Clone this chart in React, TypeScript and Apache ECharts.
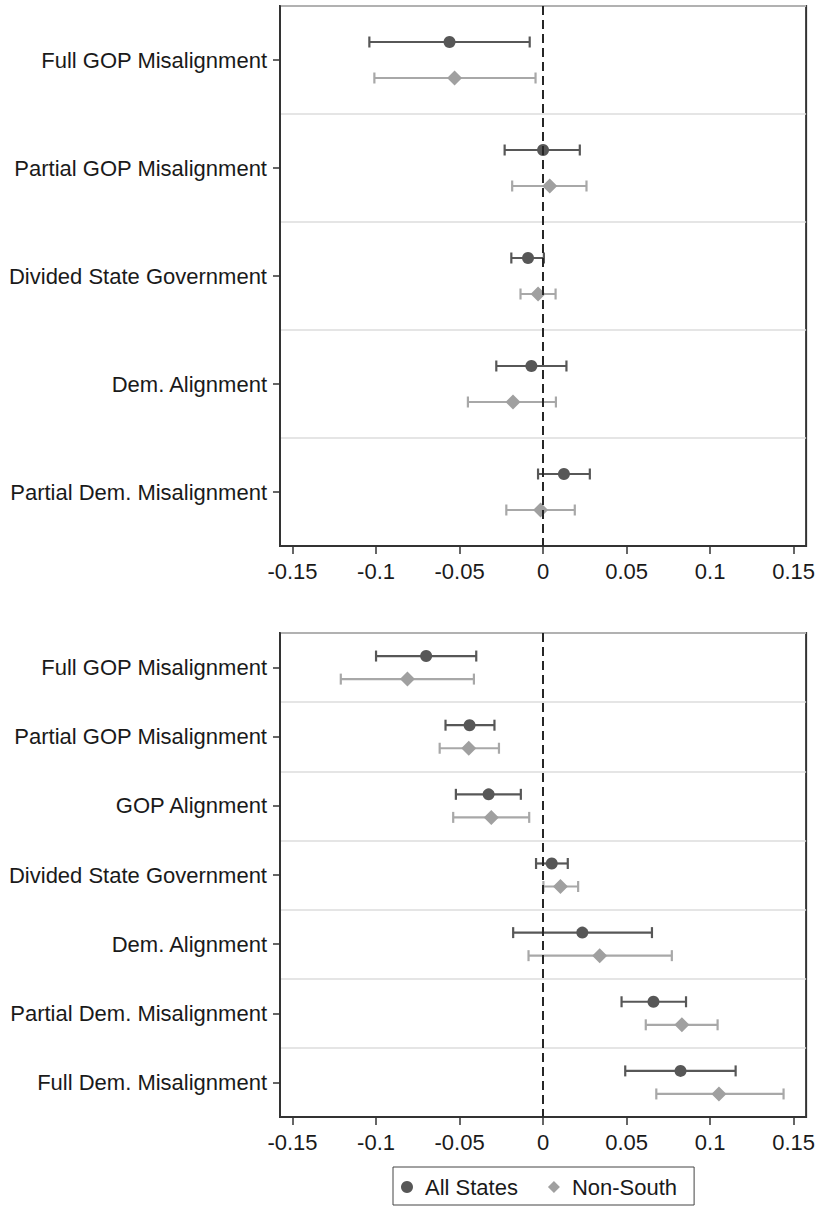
import React, { useEffect, useRef } from "react";
import * as echarts from "echarts";

const topCategories = [
  "Full GOP Misalignment",
  "Partial GOP Misalignment",
  "Divided State Government",
  "Dem. Alignment",
  "Partial Dem. Misalignment",
];
const topAllEst = [-0.056, 0.0, -0.009, -0.007, 0.0125];
const topAllLo = [-0.104, -0.023, -0.019, -0.028, -0.003];
const topAllHi = [-0.008, 0.022, 0.0005, 0.014, 0.028];
const topNSEst = [-0.053, 0.004, -0.003, -0.018, -0.0015];
const topNSLo = [-0.101, -0.0185, -0.0135, -0.045, -0.022];
const topNSHi = [-0.0045, 0.026, 0.0075, 0.0077, 0.019];

const bottomCategories = [
  "Full GOP Misalignment",
  "Partial GOP Misalignment",
  "GOP Alignment",
  "Divided State Government",
  "Dem. Alignment",
  "Partial Dem. Misalignment",
  "Full Dem. Misalignment",
];
const botAllEst = [-0.07, -0.044, -0.0326, 0.0052, 0.0235, 0.0661, 0.0823];
const botAllLo = [-0.1, -0.0584, -0.0522, -0.0042, -0.0179, 0.047, 0.0492];
const botAllHi = [-0.04, -0.0291, -0.0133, 0.0148, 0.0652, 0.0856, 0.1153];
const botNSEst = [-0.0812, -0.0445, -0.031, 0.0104, 0.0339, 0.0831, 0.1053];
const botNSLo = [-0.1211, -0.0619, -0.0538, 0.0002, -0.0087, 0.0615, 0.0678];
const botNSHi = [-0.0414, -0.0264, -0.0083, 0.021, 0.0771, 0.1045, 0.144];

const xTicks = [-0.15, -0.1, -0.05, 0, 0.05, 0.1, 0.15];
const xMin = -0.1575;
const xMax = 0.1575;

const seriesNames = ["All States", "Non-South"];

const ALL_COLOR = "#575757";
const NS_COLOR = "#a0a0a0";
const NS_LINE = "#a8a8a8";
const FONT = "'Liberation Sans', Arial, Helvetica, sans-serif";
const FS = 22;

function rows(lo: number[], est: number[], hi: number[]) {
  return est.map((e, i) => [i, lo[i], e, hi[i]]);
}

function makeRender(kind: "circle" | "diamond", color: string, lineColor: string, sign: number) {
  return (params: any, api: any) => {
    const cat = api.value(0);
    const lo = api.value(1);
    const est = api.value(2);
    const hi = api.value(3);
    const band = api.size([0, 1])[1];
    const off = (sign * band) / 6;
    const pLo = api.coord([lo, cat]);
    const pEst = api.coord([est, cat]);
    const pHi = api.coord([hi, cat]);
    const y = pEst[1] + off;
    const cap = 5.5;
    const lineStyle = { stroke: lineColor, lineWidth: 2.2 };
    const children: any[] = [
      { type: "line", shape: { x1: pLo[0], y1: y, x2: pHi[0], y2: y }, style: lineStyle },
      { type: "line", shape: { x1: pLo[0], y1: y - cap, x2: pLo[0], y2: y + cap }, style: lineStyle },
      { type: "line", shape: { x1: pHi[0], y1: y - cap, x2: pHi[0], y2: y + cap }, style: lineStyle },
    ];
    if (kind === "circle") {
      children.push({ type: "circle", shape: { cx: pEst[0], cy: y, r: 6 }, style: { fill: color } });
    } else {
      const h = 7.5;
      children.push({
        type: "polygon",
        shape: {
          points: [
            [pEst[0], y - h],
            [pEst[0] + h, y],
            [pEst[0], y + h],
            [pEst[0] - h, y],
          ],
        },
        style: { fill: color },
      });
    }
    return { type: "group", children };
  };
}

function xAxisFor(gridIndex: number) {
  return {
    type: "value",
    gridIndex,
    min: xMin,
    max: xMax,
    axisLine: { show: true, onZero: false, lineStyle: { color: "#333", width: 2 } },
    axisTick: {
      show: true,
      customValues: xTicks,
      length: 8,
      lineStyle: { color: "#333", width: 1.5 },
    },
    axisLabel: {
      customValues: xTicks,
      formatter: (v: number) => String(v),
      fontSize: FS,
      fontFamily: FONT,
      color: "#1a1a1a",
      margin: 14,
    },
    splitLine: { show: false },
  };
}

function yAxisFor(gridIndex: number, cats: string[]) {
  return {
    type: "category",
    gridIndex,
    data: cats,
    inverse: true,
    axisLine: { show: true, onZero: false, lineStyle: { color: "#333", width: 2 } },
    axisTick: {
      show: true,
      alignWithLabel: true,
      length: 7,
      lineStyle: { color: "#333", width: 1.5 },
    },
    axisLabel: {
      fontSize: FS,
      fontFamily: FONT,
      color: "#1a1a1a",
      margin: 13,
    },
    splitLine: { show: true, lineStyle: { color: "#dcdcdc", width: 1.5 } },
  };
}

const zeroLine = {
  silent: true,
  symbol: "none",
  label: { show: false },
  lineStyle: { color: "#262626", width: 2, type: [9, 5] },
  data: [{ xAxis: 0 }],
};

export default function App() {
  const ref = useRef<HTMLDivElement>(null);
  useEffect(() => {
    if (!ref.current) return;
    const chart = echarts.init(ref.current, null, { renderer: "svg" });
    const option: any = {
      animation: false,
      backgroundColor: "#ffffff",
      grid: [
        { left: 280, top: 6, width: 529, height: 540, show: true, borderColor: "#333", borderWidth: 2 },
        { left: 280, top: 633, width: 529, height: 484, show: true, borderColor: "#333", borderWidth: 2 },
      ],
      xAxis: [xAxisFor(0), xAxisFor(1)],
      yAxis: [yAxisFor(0, topCategories), yAxisFor(1, bottomCategories)],
      legend: {
        left: 393,
        top: 1167,
        orient: "horizontal",
        selectedMode: false,
        borderColor: "#444",
        borderWidth: 1,
        padding: [7, 17, 5, 8],
        itemWidth: 12,
        itemHeight: 12,
        itemGap: 30,
        textStyle: {
          fontSize: FS,
          fontFamily: FONT,
          color: "#1a1a1a",
          padding: [0, 0, 0, 7],
          lineHeight: 26,
        },
        data: [
          { name: seriesNames[0], icon: "circle", itemStyle: { color: ALL_COLOR } },
          { name: seriesNames[1], icon: "diamond", itemStyle: { color: NS_COLOR } },
        ],
      },
      series: [
        {
          type: "custom",
          name: seriesNames[0],
          xAxisIndex: 0,
          yAxisIndex: 0,
          itemStyle: { color: ALL_COLOR },
          encode: { x: [1, 2, 3], y: 0 },
          data: rows(topAllLo, topAllEst, topAllHi),
          renderItem: makeRender("circle", ALL_COLOR, ALL_COLOR, -1),
          markLine: zeroLine,
          z: 3,
        },
        {
          type: "custom",
          name: seriesNames[1],
          xAxisIndex: 0,
          yAxisIndex: 0,
          itemStyle: { color: NS_COLOR },
          encode: { x: [1, 2, 3], y: 0 },
          data: rows(topNSLo, topNSEst, topNSHi),
          renderItem: makeRender("diamond", NS_COLOR, NS_LINE, 1),
          z: 3,
        },
        {
          type: "custom",
          name: seriesNames[0],
          xAxisIndex: 1,
          yAxisIndex: 1,
          itemStyle: { color: ALL_COLOR },
          encode: { x: [1, 2, 3], y: 0 },
          data: rows(botAllLo, botAllEst, botAllHi),
          renderItem: makeRender("circle", ALL_COLOR, ALL_COLOR, -1),
          markLine: zeroLine,
          z: 3,
        },
        {
          type: "custom",
          name: seriesNames[1],
          xAxisIndex: 1,
          yAxisIndex: 1,
          itemStyle: { color: NS_COLOR },
          encode: { x: [1, 2, 3], y: 0 },
          data: rows(botNSLo, botNSEst, botNSHi),
          renderItem: makeRender("diamond", NS_COLOR, NS_LINE, 1),
          z: 3,
        },
      ],
    };
    chart.setOption(option);
    return () => chart.dispose();
  }, []);
  return (
    <div
      ref={ref}
      style={{ position: "absolute", left: 0, top: 0, width: 818, height: 1206, background: "#fff" }}
    />
  );
}
